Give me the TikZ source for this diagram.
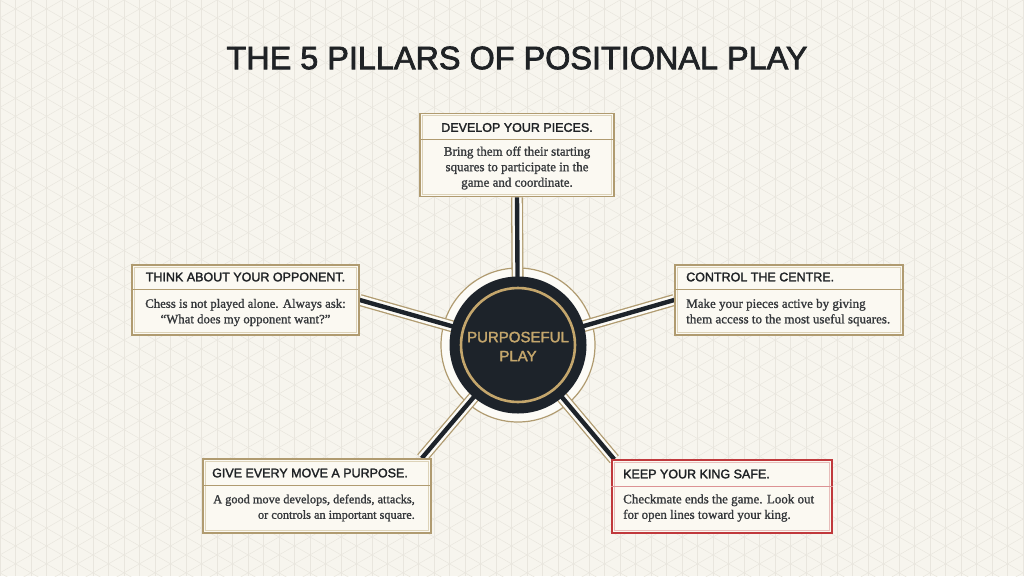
\documentclass[tikz,border=0pt]{standalone}
\usepackage{fontspec}
\setmainfont{Liberation Serif}
\setsansfont{Liberation Sans}
\newfontfamily\titlef{Liberation Sans}[FakeBold=2.2]
\newfontfamily\hdrf{Liberation Sans}[FakeBold=2.0]
\newfontfamily\bodyf{Liberation Serif}[FakeBold=1.2]
\newfontfamily\circf{Liberation Sans}[FakeBold=2.0]
\usetikzlibrary{calc}
\definecolor{bgcol}{HTML}{F7F5EE}
\definecolor{gridcol}{HTML}{E9E6DE}
\definecolor{boxfill}{HTML}{FBF9F2}
\definecolor{tan}{HTML}{B09B70}
\definecolor{tanlight}{HTML}{DDD3B9}
\definecolor{navy}{HTML}{1D232A}
\definecolor{gold}{HTML}{C4A66C}
\definecolor{redb}{HTML}{C0393C}
\definecolor{redlight}{HTML}{E7BDBA}
\definecolor{ink}{HTML}{1F2225}
\definecolor{cream}{HTML}{FCFBF6}
\pgfdeclarelayer{bg}
\pgfdeclarelayer{conn}
\pgfsetlayers{bg,conn,main}
\begin{document}
\begin{tikzpicture}[x=1pt,y=-1pt,
  gridline/.style={draw=gridcol,line width=0.5pt},
  titletext/.style={inner sep=0pt,text=ink,font=\titlef\fontsize{32.4}{36}\selectfont},
  box/.style={draw=tan,line width=1.6pt,fill=boxfill,inner sep=0pt,rectangle},
  redbox/.style={box,draw=redb},
  innerline/.style={draw=tanlight,line width=0.7pt},
  redinner/.style={draw=redlight,line width=0.7pt},
  sepline/.style={draw=tan,line width=1pt},
  redsep/.style={draw=redb!55,line width=1pt},
  hdr/.style={inner sep=0pt,text=ink,font=\hdrf\fontsize{12.5}{14}\selectfont},
  bodytext/.style={inner sep=0pt,text=ink!90,font=\bodyf\fontsize{13}{15.5}\selectfont},
  rail/.style={draw=navy,line width=4.4pt,shorten >=-8pt,
    preaction={draw=tan,line width=12pt},
    preaction={draw=cream,line width=9.4pt}},
  ring/.style={circle,fill=cream,draw=tan,line width=1.2pt,minimum size=154pt,inner sep=0pt},
  disk/.style={circle,fill=navy,minimum size=137pt,inner sep=0pt},
  goldring/.style={circle,draw=gold,line width=2.6pt,minimum size=114pt,inner sep=0pt},
  centertext/.style={inner sep=0pt,text=gold,align=center,font=\circf\fontsize{15}{19}\selectfont}]

\begin{pgfonlayer}{bg}
\fill[bgcol] (0,0) rectangle (1024,576);
\begin{scope}
\clip (0,0) rectangle (1024,576);
\foreach \i in {0,...,66} \draw[gridline] (\i*15.5,0) -- (\i*15.5,576);
\foreach \i in {0,...,67} \draw[gridline] (0,\i*17.9) -- (1100,\i*17.9-635.1);
\foreach \i in {-36,...,34} \draw[gridline] (0,\i*17.9) -- (1100,\i*17.9+635.1);
\end{scope}
\end{pgfonlayer}
\useasboundingbox (0,0) rectangle (1024,576);

% title
\node[titletext] (title) at (517,58) {THE 5 PILLARS OF POSITIONAL PLAY};

% centre
\begin{pgfonlayer}{conn}
\node[ring] (ring) at (518,345) {};
\end{pgfonlayer}
\node[disk] (c) at (518,345) {};
\node[goldring] (g) at (518,345) {};
\node[centertext] (ct) at (518,346.5) {PURPOSEFUL\\PLAY};

% top box
\node[box,minimum width=194pt,minimum height=83pt] (top) at (517,155) {};
\draw[innerline] ([xshift=3pt,yshift=-3pt]top.north west) rectangle ([xshift=-3pt,yshift=3pt]top.south east);
\draw[sepline] (top.west |- 0,139) -- (top.east |- 0,139);
\node[hdr] (toph) at (517,127.5) {DEVELOP YOUR PIECES.};
\node[bodytext,align=center] (topb) at (517,168) {Bring them off their starting\\squares to participate in the\\game and coordinate.};

% left box
\node[box,minimum width=227pt,minimum height=70pt] (lft) at (245.5,300) {};
\draw[innerline] ([xshift=3pt,yshift=-3pt]lft.north west) rectangle ([xshift=-3pt,yshift=3pt]lft.south east);
\draw[sepline] (lft.west |- 0,289) -- (lft.east |- 0,289);
\node[hdr] (lfth) at (245.5,277) {THINK ABOUT YOUR OPPONENT.};
\node[bodytext,align=center,font=\bodyf\fontsize{12.8}{15.5}\selectfont] (lftb) at (245.5,312.5) {Chess is not played alone. Always ask:\\“What does my opponent want?”};

% right box
\node[box,minimum width=228pt,minimum height=70pt] (rgt) at (789,300) {};
\draw[innerline] ([xshift=3pt,yshift=-3pt]rgt.north west) rectangle ([xshift=-3pt,yshift=3pt]rgt.south east);
\draw[sepline] (rgt.west |- 0,289) -- (rgt.east |- 0,289);
\node[hdr,anchor=west] (rgth) at (686,277) {CONTROL THE CENTRE.};
\node[bodytext,align=left,anchor=west] (rgtb) at (686,312.5) {Make your pieces active by giving\\them access to the most useful squares.};

% bottom left box
\node[box,minimum width=228pt,minimum height=74pt] (bl) at (317,496) {};
\draw[innerline] ([xshift=3pt,yshift=-3pt]bl.north west) rectangle ([xshift=-3pt,yshift=3pt]bl.south east);
\draw[sepline] (bl.west |- 0,485.5) -- (bl.east |- 0,485.5);
\node[hdr,anchor=west] (blh) at (212,473) {GIVE EVERY MOVE A PURPOSE.};
\node[bodytext,align=right,anchor=east,font=\bodyf\fontsize{12.3}{15.5}\selectfont] (blb) at (415,508) {A good move develops, defends, attacks,\\or controls an important square.};

% bottom right box
\node[redbox,minimum width=220pt,minimum height=73pt] (br) at (722,496.5) {};
\draw[redinner] ([xshift=3pt,yshift=-3pt]br.north west) rectangle ([xshift=-3pt,yshift=3pt]br.south east);
\draw[redsep] (br.west |- 0,486) -- (br.east |- 0,486);
\node[hdr,anchor=west] (brh) at (623,474) {KEEP YOUR KING SAFE.};
\node[bodytext,align=left,anchor=west] (brb) at (623,508) {Checkmate ends the game. Look out\\for open lines toward your king.};

% connectors
\begin{pgfonlayer}{conn}
\draw[rail] (top.south) -- (c);
\draw[rail] (lft.east) -- (c);
\draw[rail] (rgt.west) -- (c);
\draw[rail] ([xshift=-10pt]bl.north east) -- (c);
\draw[rail] ([xshift=3pt]br.north west) -- (c);
\end{pgfonlayer}
\end{tikzpicture}
\end{document}
